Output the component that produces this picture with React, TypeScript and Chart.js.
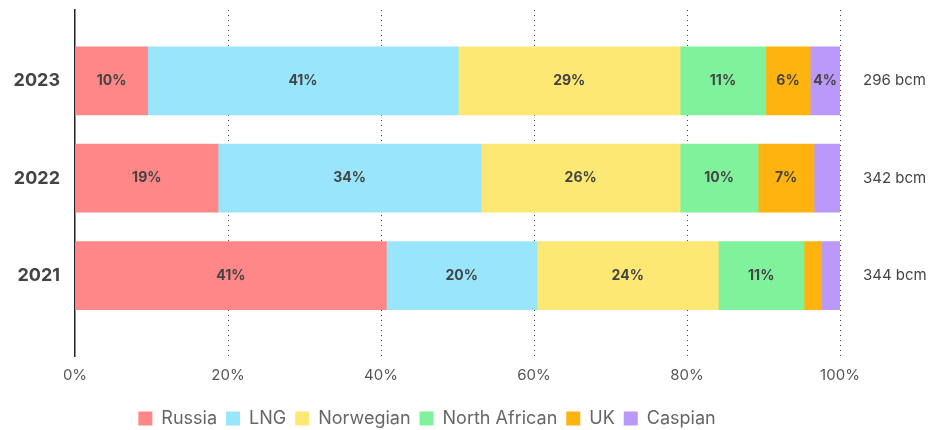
import React, { useEffect, useRef } from "react";
import { Chart, registerables } from "chart.js";

Chart.register(...registerables);

const years = ["2023", "2022", "2021"];
const volumes = ["296 bcm", "342 bcm", "344 bcm"];
const sources = ["Russia", "LNG", "Norwegian", "North African", "UK", "Caspian"];
const colors = ["#FF8787", "#99E6FC", "#FDE874", "#80F29B", "#FFB30F", "#BB99FA"];

const russia = [9.5, 18.7, 40.7];
const lng = [40.6, 34.4, 19.7];
const norwegian = [29.0, 26.0, 23.7];
const northAfrican = [11.2, 10.2, 11.2];
const uk = [5.8, 7.3, 2.3];
const caspian = [3.9, 3.4, 2.4];

const seriesValues = [russia, lng, norwegian, northAfrican, uk, caspian];
const xTicks = [0, 20, 40, 60, 80, 100];

const FONT = "Inter, 'Noto Sans', sans-serif";

const yMin = -0.727;
const yMax = 2.826;

const labelPlugin = {
  id: "segLabels",
  afterDatasetsDraw(chart: any) {
    const ctx = chart.ctx;
    ctx.save();
    ctx.font = `bold 14px ${FONT}`;
    ctx.fillStyle = "#444444";
    ctx.textAlign = "center";
    ctx.textBaseline = "middle";
    chart.data.datasets.forEach((ds: any, di: number) => {
      const meta = chart.getDatasetMeta(di);
      meta.data.forEach((el: any, i: number) => {
        const v = ds.data[i].x;
        if (v < 3.5) return;
        const cx = (el.x + el.base) / 2;
        ctx.fillText(`${Math.round(v)}%`, cx, el.y);
      });
    });
    ctx.restore();
  },
};

// place the legend row where the reference has it
const legendShift = {
  id: "legendShift",
  afterLayout(chart: any) {
    const lg = chart.legend;
    if (lg) {
      const d = 437.5 - lg.bottom;
      lg.top += d;
      lg.bottom += d;
      lg.left -= 39;
      lg.right -= 39;
    }
  },
};

const noPad = (s: any) => {
  s.paddingTop = 0;
  s.paddingBottom = 0;
};

export default function App() {
  const ref = useRef<HTMLCanvasElement | null>(null);
  useEffect(() => {
    document.body.style.margin = "0";
    if (!ref.current) return;
    const chart = new Chart(ref.current, {
      type: "bar",
      data: {
        datasets: sources.map((s, si) => ({
          label: s,
          data: seriesValues[si].map((v, i) => ({ x: v, y: i })),
          backgroundColor: colors[si],
          borderColor: colors[si],
          borderWidth: 0,
          barThickness: 68,
          xAxisID: "x",
          yAxisID: "y",
        })),
      },
      options: {
        indexAxis: "y",
        animation: false,
        responsive: true,
        maintainAspectRatio: false,
        layout: { padding: { top: 10, left: 0, right: 0, bottom: 0 } },
        plugins: {
          legend: {
            position: "bottom",
            labels: {
              boxWidth: 14,
              boxHeight: 14,
              padding: 9,
              color: "#666666",
              font: { family: FONT, size: 18 },
            },
          },
          tooltip: { enabled: false },
        },
        scales: {
          x: {
            type: "linear",
            stacked: true,
            min: 0,
            max: 100,
            afterBuildTicks: (s: any) => {
              s.ticks = xTicks.map((v) => ({ value: v }));
            },
            afterFit: (s: any) => {
              s.height = 37;
            },
            ticks: { padding: 10, color: "#555555", font: { family: FONT, size: 15 }, callback: (v: any) => `${v}%` },
            grid: {
              drawTicks: false,
              color: (c: any) => (c.tick && c.tick.value === 0 ? "rgba(0,0,0,0)" : "#444444"),
              lineWidth: 1,
            },
            border: { display: false, dash: [1, 4] },
          },
          y: {
            type: "linear",
            stacked: true,
            reverse: true,
            offset: false,
            min: yMin,
            max: yMax,
            afterBuildTicks: (s: any) => {
              s.ticks = years.map((_, i) => ({ value: i }));
            },
            afterFit: (s: any) => {
              s.width = 75;
              noPad(s);
            },
            ticks: {
              padding: 15,
              color: "#444444",
              font: { family: FONT, size: 18, weight: "bold" },
              callback: (v: any) => years[v] ?? "",
            },
            grid: { display: false, drawTicks: false, offset: false },
            border: { display: true, color: "#222222", width: 1.5 },
          },
          y2: {
            type: "linear",
            axis: "y",
            position: "right",
            reverse: true,
            offset: false,
            min: yMin,
            max: yMax,
            afterBuildTicks: (s: any) => {
              s.ticks = volumes.map((_, i) => ({ value: i }));
            },
            afterFit: (s: any) => {
              s.width = 92;
              noPad(s);
            },
            ticks: {
              padding: 23,
              color: "#444444",
              font: { family: FONT, size: 15 },
              callback: (v: any) => volumes[v] ?? "",
            },
            grid: { display: false, drawTicks: false },
            border: { display: false },
          },
        },
      },
      plugins: [labelPlugin, legendShift],
    } as any);
    return () => chart.destroy();
  }, []);
  return (
    <div style={{ width: 932, height: 430, position: "relative" }}>
      <canvas ref={ref} />
    </div>
  );
}
